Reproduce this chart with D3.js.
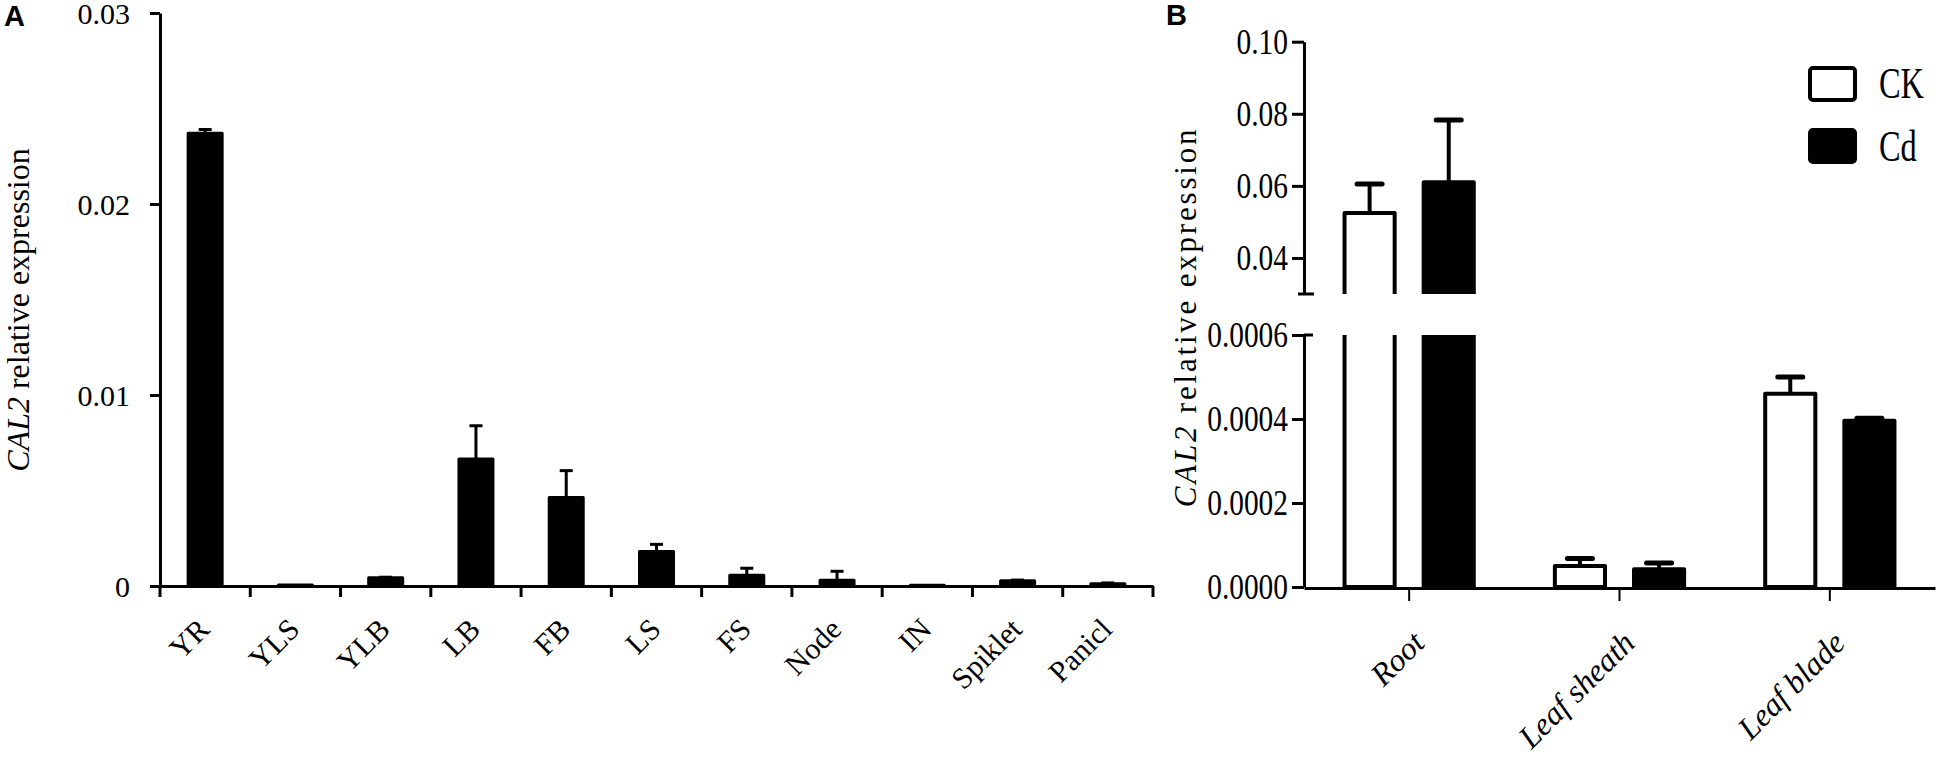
<!DOCTYPE html>
<html>
<head>
<meta charset="utf-8">
<script src="https://cdn.jsdelivr.net/npm/d3@7"></script>
<style>
  body { margin: 0; background: #fff; }
  .narrow { transform-box: fill-box; transform-origin: 100% 50%; transform: scaleX(0.84); }
  .narrow-left { transform-box: fill-box; transform-origin: 0% 50%; transform: scaleX(0.72); }
</style>
</head>
<body>
<svg id="chart" width="1950" height="759"></svg>
<script>
// panel A: tissues
const tissuesA = ["YR", "YLS", "YLB", "LB", "FB", "LS", "FS", "Node", "IN", "Spiklet", "Panicl"];
const meanA = [0.0237, 0.00005, 0.00043, 0.00665, 0.00464, 0.0018, 0.00056, 0.0003, 0.00004, 0.00028, 0.00012];
const errA  = [0.0002, 0, 0.00003, 0.00174, 0.0014, 0.00038, 0.00037, 0.00047, 0, 0.00003, 0.00004];
const ticksA = [0, 0.01, 0.02, 0.03];

// panel B: CK vs Cd
const tissuesB = ["Root", "Leaf sheath", "Leaf blade"];
const treatments = ["CK", "Cd"];
const meanCK = [0.0525, 0.00005, 0.00046];
const errCK  = [0.008, 0.000018, 0.00004];
const meanCd = [0.061, 0.000042, 0.000396];
const errCd  = [0.0173, 0.000015, 0.000006];
const ticksBLow  = [0, 0.0002, 0.0004, 0.0006];
const ticksBHigh = [0.04, 0.06, 0.08, 0.10];

const serif = "'Liberation Serif', 'Times New Roman', serif";
const svg = d3.select("#chart");

// ---------- Panel A ----------
const xA = d3.scaleBand().domain(tissuesA).range([160, 1153])
  .paddingInner(0.59).paddingOuter(0.295);
const yA = d3.scaleLinear().domain([0, 0.03]).range([586, 13]);

const gA = svg.append("g");

gA.append("text").attr("class", "panel-tag")
  .attr("x", 4).attr("y", 26).attr("font-size", 29).text("A");

// error bars first, bars on top
const errGA = gA.append("g").attr("stroke", "#000").attr("stroke-width", 3);
tissuesA.forEach((t, i) => {
  if (errA[i] <= 0) return;
  const cx = xA(t) + xA.bandwidth() / 2;
  errGA.append("line").attr("x1", cx).attr("x2", cx)
    .attr("y1", yA(meanA[i])).attr("y2", yA(meanA[i] + errA[i]));
  errGA.append("line").attr("x1", cx - 6.5).attr("x2", cx + 6.5)
    .attr("y1", yA(meanA[i] + errA[i])).attr("y2", yA(meanA[i] + errA[i]));
});

gA.append("g").selectAll("rect")
  .data(tissuesA.map((t, i) => ({ t, v: meanA[i] })))
  .enter().append("rect")
  .attr("x", d => xA(d.t) + 1.5)
  .attr("width", xA.bandwidth() - 3)
  .attr("y", d => yA(d.v))
  .attr("height", d => yA(0) - yA(d.v))
  .attr("fill", "#000").attr("stroke", "#000").attr("stroke-width", 3)
  .attr("stroke-linejoin", "round");

const yAxisA = gA.append("g").attr("transform", "translate(160,0)")
  .call(d3.axisLeft(yA).tickValues(ticksA).tickSize(10).tickSizeOuter(0).tickPadding(20)
    .tickFormat(d => d === 0 ? "0" : d3.format(".2f")(d)));
yAxisA.selectAll("path, line").attr("stroke", "#000").attr("stroke-width", 3);
yAxisA.selectAll("text").attr("font-size", 30).attr("dy", "0.34em");

const xAxisA = gA.append("g").attr("transform", "translate(0,586)")
  .call(d3.axisBottom(xA).tickSize(0).tickSizeOuter(0));
xAxisA.select(".domain").attr("stroke", "#000").attr("stroke-width", 3);
xAxisA.selectAll(".tick text")
  .attr("y", 0).attr("dy", 0).attr("x", 0)
  .attr("transform", "translate(6,45) rotate(-45)")
  .attr("text-anchor", "end").attr("font-size", 30);
// tick marks sit between the categories
const bounds = tissuesA.map(t => xA(t) - xA.step() * xA.paddingInner() / 2).concat([xA.range()[1]]);
xAxisA.selectAll(".bound").data(bounds).enter().append("line")
  .attr("x1", d => d).attr("x2", d => d).attr("y1", 0).attr("y2", 11)
  .attr("stroke", "#000").attr("stroke-width", 3);

const titleA = gA.append("text")
  .attr("transform", "translate(29,310) rotate(-90)")
  .attr("text-anchor", "middle").attr("font-size", 32);
titleA.append("tspan").attr("font-style", "italic").text("CAL2");
titleA.append("tspan").text(" relative expression");

// ---------- Panel B ----------
const xB = d3.scaleBand().domain(tissuesB).range([1304, 1935]);
const xSub = d3.scaleBand().domain(treatments).range([0, xB.bandwidth()])
  .paddingInner(0.316).paddingOuter(0.487);
const yLow = d3.scaleLinear().domain([0, 0.0006]).range([587, 335]);
const yHigh = d3.scaleLinear().domain([0.03, 0.10]).range([294, 41.7]);
const yB = v => v >= 0.03 ? yHigh(v) : yLow(v);

const gB = svg.append("g");

gB.append("text").attr("class", "panel-tag")
  .attr("x", 1166).attr("y", 25).attr("font-size", 29).text("B");

const defs = svg.append("defs");
defs.append("clipPath").attr("id", "clipLow").append("rect")
  .attr("x", 1300).attr("y", 335).attr("width", 650).attr("height", 260);
defs.append("clipPath").attr("id", "clipHigh").append("rect")
  .attr("x", 1300).attr("y", 0).attr("width", 650).attr("height", 294);

const dataB = [];
tissuesB.forEach((t, i) => {
  dataB.push({ t, g: "CK", v: meanCK[i], e: errCK[i] });
  dataB.push({ t, g: "Cd", v: meanCd[i], e: errCd[i] });
});

const errGB = gB.append("g").attr("stroke", "#000");
dataB.forEach(d => {
  const cx = xB(d.t) + xSub(d.g) + xSub.bandwidth() / 2;
  errGB.append("line").attr("x1", cx).attr("x2", cx)
    .attr("y1", yB(d.v)).attr("y2", yB(d.v + d.e)).attr("stroke-width", 4);
  errGB.append("line").attr("x1", cx - 12.5).attr("x2", cx + 12.5)
    .attr("y1", yB(d.v + d.e)).attr("y2", yB(d.v + d.e))
    .attr("stroke-width", 5).attr("stroke-linecap", "round");
});

// lower segment
gB.append("g").attr("clip-path", "url(#clipLow)").selectAll("rect")
  .data(dataB).enter().append("rect")
  .attr("x", d => xB(d.t) + xSub(d.g) + 2)
  .attr("width", xSub.bandwidth() - 4)
  .attr("y", d => Math.max(yLow(d.v), 300))
  .attr("height", d => yLow(0) - Math.max(yLow(d.v), 300))
  .attr("fill", d => d.g === "CK" ? "#fff" : "#000")
  .attr("stroke", "#000").attr("stroke-width", 4).attr("stroke-linejoin", "round");

// upper segment
gB.append("g").attr("clip-path", "url(#clipHigh)").selectAll("rect")
  .data(dataB.filter(d => d.v >= 0.03)).enter().append("rect")
  .attr("x", d => xB(d.t) + xSub(d.g) + 2)
  .attr("width", xSub.bandwidth() - 4)
  .attr("y", d => yHigh(d.v))
  .attr("height", d => 310 - yHigh(d.v))
  .attr("fill", d => d.g === "CK" ? "#fff" : "#000")
  .attr("stroke", "#000").attr("stroke-width", 4).attr("stroke-linejoin", "round");

const axLow = gB.append("g").attr("transform", "translate(1304,0)")
  .call(d3.axisLeft(yLow).tickValues(ticksBLow).tickSize(12).tickSizeOuter(0).tickPadding(4)
    .tickFormat(d3.format(".4f")));
const axHigh = gB.append("g").attr("transform", "translate(1304,0)")
  .call(d3.axisLeft(yHigh).tickValues(ticksBHigh).tickSize(12).tickSizeOuter(0).tickPadding(4)
    .tickFormat(d3.format(".2f")));
[axLow, axHigh].forEach(ax => {
  ax.selectAll("path, line").attr("stroke", "#000").attr("stroke-width", 3);
  ax.selectAll("text").attr("font-size", 35).attr("dy", "0.34em").attr("class", "narrow");
});
// break marks
gB.append("line").attr("x1", 1298).attr("x2", 1314).attr("y1", yHigh(0.03)).attr("y2", yHigh(0.03))
  .attr("stroke", "#000").attr("stroke-width", 3);
gB.append("line").attr("x1", 1304).attr("x2", 1313).attr("y1", yLow(0.0006)).attr("y2", yLow(0.0006))
  .attr("stroke", "#000").attr("stroke-width", 3);

const xAxisB = gB.append("g").attr("transform", "translate(0,588)")
  .call(d3.axisBottom(xB).tickSize(13).tickSizeOuter(0));
xAxisB.select(".domain").attr("stroke", "#000").attr("stroke-width", 3);
xAxisB.selectAll(".tick line").attr("stroke", "#000").attr("stroke-width", 2);
xAxisB.selectAll(".tick text")
  .attr("y", 0).attr("dy", 0).attr("x", 0)
  .attr("transform", "translate(17,57) rotate(-45)")
  .attr("text-anchor", "end").attr("font-size", 32).attr("font-style", "italic");

const titleB = gB.append("text")
  .attr("transform", "translate(1196,317) rotate(-90)")
  .attr("text-anchor", "middle").attr("font-size", 31).attr("letter-spacing", 2.8);
titleB.append("tspan").attr("font-style", "italic").text("CAL2");
titleB.append("tspan").text(" relative expression");

// legend
const legend = gB.append("g");
treatments.forEach((g, i) => {
  legend.append("rect")
    .attr("x", 1810).attr("y", 68 + i * 62).attr("width", 45).attr("height", 32)
    .attr("rx", 3)
    .attr("fill", g === "CK" ? "#fff" : "#000")
    .attr("stroke", "#000").attr("stroke-width", 4);
  legend.append("text")
    .attr("x", 1879).attr("y", 98 + i * 63)
    .attr("font-size", 45).attr("class", "narrow-left").text(g);
});

// fonts: serif everywhere, sans bold for panel tags
svg.selectAll("text").attr("font-family", serif).attr("fill", "#000");
svg.selectAll(".panel-tag")
  .attr("font-family", "'Liberation Sans', Arial, sans-serif").attr("font-weight", "bold");
</script>
</body>
</html>
